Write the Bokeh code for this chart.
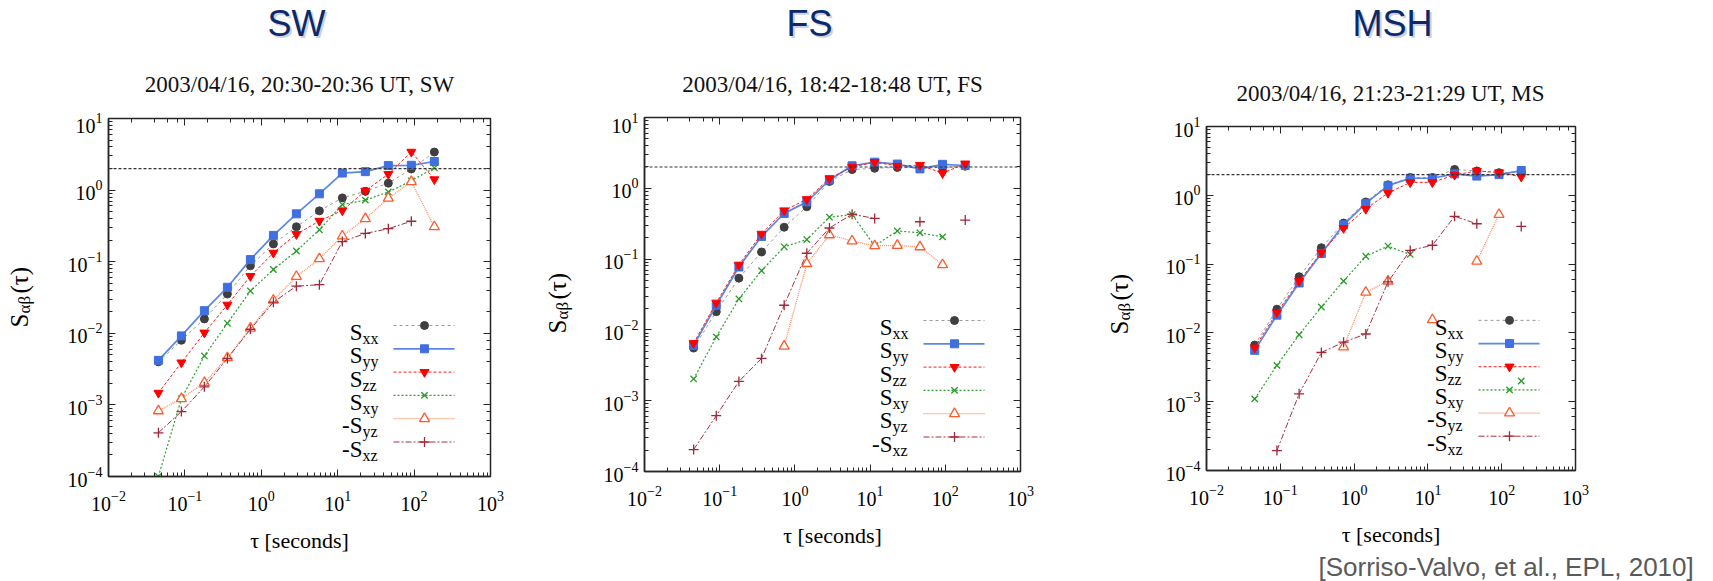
import math
from bokeh.plotting import figure
from bokeh.models import (LogAxis, LogTicker, Span, Range1d, LinearScale, Title,
                          CustomJSTickFormatter, ColumnDataSource)
from bokeh.layouts import row, column
from bokeh.embed import file_html
from bokeh.resources import INLINE
from bokeh.core.properties import value

NAN = float("nan")

# ---------------- data ----------------
TAU = [0.045, 0.09, 0.18, 0.36, 0.72, 1.44, 2.88, 5.76, 11.5, 23.0, 46.0, 92.0, 184.0]

SW_SXX = [0.0040, 0.0080, 0.0159, 0.0354, 0.0877, 0.177, 0.307, 0.513, 0.778, 0.964, 1.25, 1.97, 3.40]
SW_SYY = [0.00419, 0.0092, 0.0207, 0.0439, 0.107, 0.233, 0.466, 0.887, 1.73, 1.81, 2.20, 2.22, 2.51]
SW_SZZ = [0.00147, 0.0039, 0.0102, 0.0250, 0.0628, 0.133, 0.242, 0.371, 0.519, 0.977, 1.67, 3.42, 1.41]
SW_SXY = [0.0001, 0.00122, 0.00483, 0.0138, 0.039, 0.0778, 0.141, 0.279, 0.628, 0.724, 0.942, 1.35, 2.05]
SW_MSYZ = [0.000826, 0.00122, 0.00205, 0.00455, 0.0118, 0.0289, 0.0621, 0.110, 0.228, 0.399, 0.769, 1.31, 0.307]
SW_MSXZ = [0.000408, 0.000807, 0.00179, 0.00445, 0.0114, 0.0272, 0.0455, 0.0477, 0.191, 0.248, 0.289, 0.367, NAN]

FS_SXX = [0.00554, 0.0181, 0.0538, 0.126, 0.282, 0.549, 1.25, 1.84, 1.92, 1.97, 1.95, 1.97, 2.05]
FS_SYY = [0.00603, 0.0223, 0.0774, 0.209, 0.441, 0.643, 1.31, 2.08, 2.34, 2.20, 1.88, 2.18, 2.10]
FS_SZZ = [0.00649, 0.0242, 0.0832, 0.227, 0.486, 0.70, 1.38, 2.00, 2.34, 2.07, 2.13, 1.63, 2.23]
FS_SXY = [0.00203, 0.00796, 0.0274, 0.0686, 0.149, 0.189, 0.391, 0.426, 0.154, 0.250, 0.235, 0.206, NAN]
FS_SYZ = [NAN, NAN, NAN, NAN, 0.00589, 0.0863, 0.220, 0.180, 0.154, 0.156, 0.149, 0.0832, NAN]
FS_MSXZ = [0.000204, 0.000614, 0.00187, 0.00395, 0.0223, 0.121, 0.275, 0.430, 0.375, NAN, 0.337, NAN, 0.356]

MSH_SXX = [0.00665, 0.0221, 0.0656, 0.173, 0.395, 0.80, 1.42, 1.81, 1.81, 2.38, 2.26, 2.13, 2.18]
MSH_SYY = [0.00558, 0.0181, 0.0532, 0.143, 0.372, 0.762, 1.38, 1.77, 1.77, 2.05, 1.90, 2.00, 2.29]
MSH_SZZ = [0.0061, 0.0198, 0.0566, 0.147, 0.333, 0.632, 1.08, 1.54, 1.54, 1.98, 2.26, 2.15, 1.86]
MSH_SXY = [0.0011, 0.00337, 0.0094, 0.0238, 0.0566, 0.130, 0.183, 0.138, NAN, NAN, NAN, NAN, 0.0020]
MSH_MSYZ = [NAN, NAN, NAN, NAN, 0.00625, 0.039, 0.0566, NAN, 0.0155, NAN, 0.110, 0.525, NAN]
MSH_MSXZ = [NAN, 0.000195, 0.0013, 0.00519, 0.00734, 0.00964, 0.0552, 0.158, 0.188, 0.494, 0.386, NAN, 0.353]

REF_LEVEL = 2.0

PANEL_NAMES = ["SW", "FS", "MSH"]
SUBTITLES = ["2003/04/16, 20:30-20:36 UT, SW",
             "2003/04/16, 18:42-18:48 UT, FS",
             "2003/04/16, 21:23-21:29 UT, MS"]
SUBS = ["xx", "yy", "zz", "xy", "yz", "xz"]
SW_PREFIX = ["S", "S", "S", "S", "-S", "-S"]
FS_PREFIX = ["S", "S", "S", "S", "S", "-S"]
MSH_PREFIX = ["S", "S", "S", "S", "-S", "-S"]
X_LABEL = "τ [seconds]"
Y_LABEL_PARTS = ["S", "αβ", "(τ)"]
CITATION = "[Sorriso-Valvo, et al., EPL, 2010]"

# ---------------- styles / layout ----------------
STYLES = [
    dict(lc="#9a9a9a", dash="3 3", lw=1.0, marker="circle", size=8, fill="#3f3f3f", mc="#3f3f3f", mw=1.0),
    dict(lc="#5b86e6", dash="solid", lw=1.7, marker="square", size=8, fill="#3f6fe0", mc="#3f6fe0", mw=1.0),
    dict(lc="#ff1a1a", dash="3 2", lw=1.0, marker="inverted_triangle", size=9, fill="#ff0000", mc="#ff0000", mw=1.0),
    dict(lc="#2ea02e", dash="2 2", lw=1.2, marker="x", size=9, fill=None, mc="#2a9a2a", mw=1.3),
    dict(lc="#ff8a5c", dash="1 1", lw=1.3, marker="triangle", size=10, fill="white", mc="#ff5a2a", mw=1.3),
    dict(lc="#a33040", dash="6 2 2 2", lw=1.0, marker="cross", size=10, fill=None, mc="#a02838", mw=1.3),
]

W_TOTAL = 1713
H_TOTAL = 581
HEAD_H = 112
BODY_H = H_TOTAL - HEAD_H

# header text placement (pixels, y measured from header bottom)
TITLE_X = [296, 809, 1392]
TITLE_Y = 89
SUB_X = [299, 832, 1390]
SUB_Y = [28, 28, 19]

# body: label strip + plot for each panel
LAB_W = [44, 50, 50]
LAB_X = [19, 17, 19]          # baseline x of rotated label, inside strip
LAB_Y = [254, 248, 247]       # start (bottom) of rotated label, from strip bottom
PLOTS = [
    dict(w=496, left=64, right=50, top=6, bottom=105),
    dict(w=510, left=54, right=80, top=5, bottom=110),
    dict(w=563, left=56, right=138, top=14, bottom=109),
]

SERIF = "Liberation Serif"
SANS = "Liberation Sans"
AXC = "#262626"


def bare_figure(w, h):
    f = figure(width=w, height=h, x_range=Range1d(0, w), y_range=Range1d(0, h),
               x_axis_location=None, y_axis_location=None, title=None,
               output_backend="svg", toolbar_location=None, min_border=0)
    f.frame_align = False
    f.grid.visible = False
    f.outline_line_color = None
    f.background_fill_color = "white"
    f.border_fill_color = "white"
    return f


def style_axis(ax):
    ax.major_tick_in = 7
    ax.major_tick_out = 0
    ax.minor_tick_in = 4
    ax.minor_tick_out = 0
    ax.major_tick_line_color = AXC
    ax.minor_tick_line_color = AXC


def make_header():
    h = bare_figure(W_TOTAL, HEAD_H)
    h.text(x=[x + 2 for x in TITLE_X], y=[TITLE_Y - 2] * 3, text=PANEL_NAMES,
           text_align="center", text_baseline="middle", text_font=value(SANS),
           text_font_size="36px", text_color="#aab3c6", text_alpha=0.6)
    h.text(x=TITLE_X, y=[TITLE_Y] * 3, text=PANEL_NAMES,
           text_align="center", text_baseline="middle", text_font=value(SANS),
           text_font_size="36px", text_color="#0c2a6a")
    h.text(x=SUB_X, y=SUB_Y, text=SUBTITLES,
           text_align="center", text_baseline="middle", text_font=value(SERIF),
           text_font_size="23px", text_color="#111111")
    return h


def make_ylabel(w, xb, yb):
    f = bare_figure(w, BODY_H)
    ang = math.pi / 2
    sizes = ["25px", "17px", "25px"]
    dxs = [0, 5, 0]
    dys = [0, 14, 34]
    for part, fs, ddx, ddy in zip(Y_LABEL_PARTS, sizes, dxs, dys):
        f.text(x=[xb + ddx], y=[yb + ddy], text=[part], angle=ang,
               text_align="left", text_baseline="alphabetic",
               text_font=value(SERIF), text_font_size=fs, text_color="black")
    return f


def make_panel(series, prefixes, L, citation=None):
    fw = L["w"] - L["left"] - L["right"]
    fh = BODY_H - L["top"] - L["bottom"]
    p = figure(width=L["w"], height=BODY_H, x_axis_type="log", y_axis_type="log",
               x_range=Range1d(1e-2, 1e3), y_range=Range1d(1e-4, 1e1), title=None,
               output_backend="svg", toolbar_location=None,
               min_border_left=L["left"], min_border_right=L["right"],
               min_border_top=L["top"], min_border_bottom=L["bottom"])
    p.frame_align = False
    p.grid.visible = False
    p.outline_line_color = AXC
    p.outline_line_width = 1.5
    p.background_fill_color = "white"
    p.border_fill_color = "white"

    for ax in (p.xaxis[0], p.yaxis[0]):
        style_axis(ax)
        ax.axis_line_color = AXC
        ax.axis_line_width = 1.5
        ax.major_label_text_font = SERIF
        ax.major_label_text_font_size = "20px"
        ax.major_label_text_color = "black"
    p.xaxis[0].major_label_standoff = 14
    p.yaxis[0].major_label_standoff = 6
    p.xaxis[0].axis_label = X_LABEL
    p.xaxis[0].axis_label_text_font = SERIF
    p.xaxis[0].axis_label_text_font_size = "22px"
    p.xaxis[0].axis_label_text_font_style = "normal"
    p.xaxis[0].axis_label_text_color = "black"
    p.xaxis[0].axis_label_standoff = 14

    blank = CustomJSTickFormatter(code="return ''")
    for loc in ("above", "right"):
        ax = LogAxis(ticker=LogTicker(), formatter=blank)
        style_axis(ax)
        ax.axis_line_color = None
        ax.major_label_standoff = 0
        ax.major_label_text_font_size = "1px"
        p.add_layout(ax, loc)

    p.add_layout(Span(location=REF_LEVEL, dimension="width", line_color="#333333",
                      line_dash="3 2", line_width=1.2))

    for vals, st in zip(series, STYLES):
        src = ColumnDataSource(dict(x=TAU, y=vals))
        p.line("x", "y", source=src, line_color=st["lc"], line_dash=st["dash"], line_width=st["lw"])
        p.scatter("x", "y", source=src, marker=st["marker"], size=st["size"],
                  fill_color=st["fill"], line_color=st["mc"], line_width=st["mw"])

    # legend (gnuplot style: text left, sample right), in frame pixel coords
    p.extra_x_ranges = {"fx": Range1d(0, fw)}
    p.extra_y_ranges = {"fy": Range1d(0, fh)}
    p.extra_x_scales = {"fx": LinearScale()}
    p.extra_y_scales = {"fy": LinearScale()}
    y0, dy = 151.0, 23.3
    for i, (pre, sub, st) in enumerate(zip(prefixes, SUBS, STYLES)):
        yy = y0 - i * dy
        p.line([fw - 97, fw - 36], [yy, yy], x_range_name="fx", y_range_name="fy",
               line_color=st["lc"], line_dash=st["dash"], line_width=st["lw"])
        p.scatter([fw - 66], [yy], x_range_name="fx", y_range_name="fy",
                  marker=st["marker"], size=st["size"], fill_color=st["fill"],
                  line_color=st["mc"], line_width=st["mw"])
        p.text([fw - 128], [yy - 7], text=[pre], x_range_name="fx", y_range_name="fy",
               text_align="right", text_baseline="alphabetic",
               text_font=value(SERIF), text_font_size="23px", text_color="black")
        p.text([fw - 128], [yy - 13], text=[sub], x_range_name="fx", y_range_name="fy",
               text_align="left", text_baseline="alphabetic",
               text_font=value(SERIF), text_font_size="16px", text_color="black")

    if citation:
        p.add_layout(Title(text=citation, align="left", offset=112, text_font=SANS,
                           text_font_size="26px", text_font_style="normal",
                           text_color="#5a5a5a", standoff=0), "below")
    return p


header = make_header()
p1 = make_panel([SW_SXX, SW_SYY, SW_SZZ, SW_SXY, SW_MSYZ, SW_MSXZ], SW_PREFIX, PLOTS[0])
p2 = make_panel([FS_SXX, FS_SYY, FS_SZZ, FS_SXY, FS_SYZ, FS_MSXZ], FS_PREFIX, PLOTS[1])
p3 = make_panel([MSH_SXX, MSH_SYY, MSH_SZZ, MSH_SXY, MSH_MSYZ, MSH_MSXZ], MSH_PREFIX, PLOTS[2],
                citation=CITATION)
l1 = make_ylabel(LAB_W[0], LAB_X[0], LAB_Y[0])
l2 = make_ylabel(LAB_W[1], LAB_X[1], LAB_Y[1])
l3 = make_ylabel(LAB_W[2], LAB_X[2], LAB_Y[2])

layout = column(header, row(l1, p1, l2, p2, l3, p3))
open("out.html", "w").write(file_html(layout, INLINE))
